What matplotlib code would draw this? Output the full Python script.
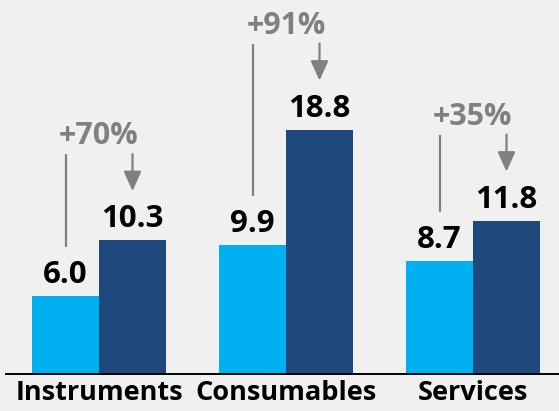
import matplotlib
matplotlib.use("Agg")
import matplotlib.pyplot as plt
import numpy as np

categories = ["Instruments", "Consumables", "Services"]
before = [6.0, 9.9, 8.7]
after = [10.3, 18.8, 11.8]
growth = ["+70%", "+91%", "+35%"]

LIGHT = "#00b0f0"; DARK = "#1f497d"; GREY = "#808080"; BG = "#f0f0f0"
W, H = 559, 411
plt.rcParams["font.family"] = ["Open Sans", "DejaVu Sans"]

fig = plt.figure(figsize=(W / 100, H / 100), dpi=100, facecolor=BG)
base_px = 374; left_px = 6
ax = fig.add_axes([left_px / W, (H - base_px) / H, 1 - left_px / W, base_px / H], facecolor=BG)
unit_px = 13.0                      # pixels per unit of value
ax.set_ylim(0, base_px / unit_px)
step_px = 187.0; first_px = 99.0
ax.set_xlim((left_px - first_px) / step_px, (W - first_px) / step_px)
px = 1 / unit_px                    # one pixel in data units

x = np.arange(len(categories)); w = 67 / step_px
ax.bar(x - w / 2, before, w, color=LIGHT, zorder=2)
ax.bar(x + w / 2, after, w, color=DARK, zorder=2)

for i in range(len(categories)):
    for xx, v in ((x[i] - w / 2, before[i]), (x[i] + w / 2, after[i])):
        ax.text(xx, v + 13 * px, f"{v:.1f}", ha="center", va="baseline",
                fontsize=22.5, weight="bold", color="black")
    top = after[i] + 86 * px
    ax.plot([x[i] - w / 2] * 2, [before[i] + 49 * px, top], color=GREY, lw=1.6,
            solid_capstyle="butt")
    ax.annotate("", xy=(x[i] + w / 2, after[i] + 49 * px), xytext=(x[i] + w / 2, top),
                arrowprops=dict(arrowstyle="-|>,head_length=0.6,head_width=0.27",
                                mutation_scale=20, color=GREY, lw=1.6,
                                shrinkA=0, shrinkB=0))
    ax.text(x[i], after[i] + 104 * px, growth[i], ha="center", va="center",
            fontsize=22, weight="bold", color=GREY)

ax.set_xticks(x); ax.set_xticklabels(categories, fontsize=19.5, weight="bold")
ax.tick_params(axis="x", length=0, pad=4)
ax.set_yticks([])
for s in ("left", "right", "top"):
    ax.spines[s].set_visible(False)
ax.spines["bottom"].set_linewidth(1.4)
ax.spines["bottom"].set_color("black")

fig.savefig("out.png", dpi=100, facecolor=BG)
